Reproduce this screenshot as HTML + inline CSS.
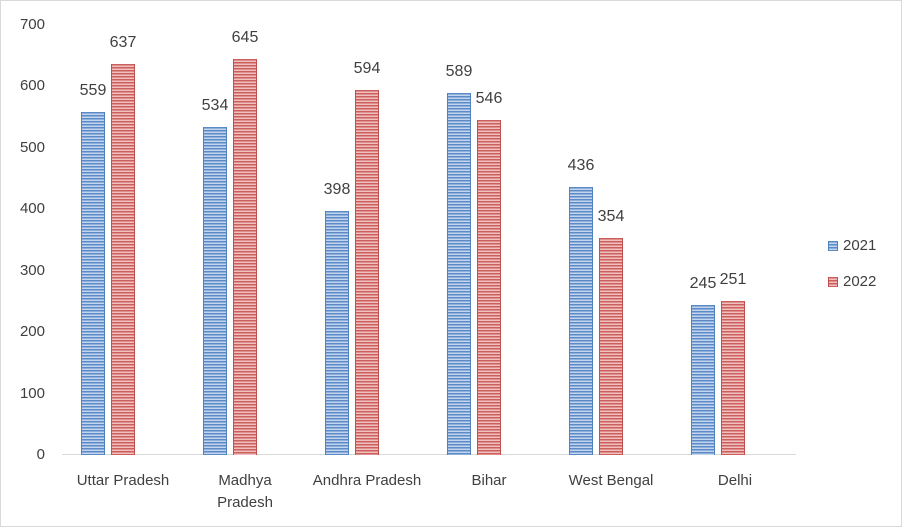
<!DOCTYPE html>
<html><head><style>
body{margin:0;background:#fff;}
#c{position:relative;width:900px;height:525px;border:1px solid #d9d9d9;background:#fff;font-family:"Liberation Sans",sans-serif;color:#404040;overflow:hidden}
.t{position:absolute;font-size:15px;text-align:right;width:40px;left:4px}
.b{position:absolute;width:24px}
.bl{background:repeating-linear-gradient(180deg,#5b8ac6 0,#5b8ac6 1.5px,#c3d5ee 1.5px,#c3d5ee 3px);box-shadow:inset 1px 0 #4f81bd,inset -1px 0 #4f81bd}
.rd{background:repeating-linear-gradient(180deg,#cc5f5c 0,#cc5f5c 1.5px,#efc0bf 1.5px,#efc0bf 3px);box-shadow:inset 1px 0 #c0504d,inset -1px 0 #c0504d}
.v{position:absolute;font-size:16px;width:50px;text-align:center}
.x{position:absolute;font-size:15px;width:120px;text-align:center;top:469px;line-height:22px}
</style></head><body><div id="c">
<div style="position:absolute;left:61px;top:453px;width:734px;height:1px;background:#d9d9d9"></div>
<div class="t" style="top:445px">0</div>
<div class="t" style="top:384px">100</div>
<div class="t" style="top:322px">200</div>
<div class="t" style="top:261px">300</div>
<div class="t" style="top:199px">400</div>
<div class="t" style="top:138px">500</div>
<div class="t" style="top:76px">600</div>
<div class="t" style="top:15px">700</div>
<div id="bars"></div>
<div class="x" style="left:62px">Uttar Pradesh</div>
<div class="x" style="left:184px">Madhya<br>Pradesh</div>
<div class="x" style="left:306px">Andhra Pradesh</div>
<div class="x" style="left:428px">Bihar</div>
<div class="x" style="left:550px">West Bengal</div>
<div class="x" style="left:674px">Delhi</div>
<div class="bl" style="position:absolute;left:827px;top:240px;width:10px;height:10px"></div>
<div style="position:absolute;left:842px;top:236px;font-size:15px">2021</div>
<div class="rd" style="position:absolute;left:827px;top:276px;width:10px;height:10px"></div>
<div style="position:absolute;left:842px;top:272px;font-size:15px">2022</div>
</div>
<script>
var d=[[559,637],[534,645],[398,594],[589,546],[436,354],[245,251]];
var h='';
d.forEach(function(p,i){
 var x=80+122*i;
 p.forEach(function(v,j){
  var hh=v*430/700, top=454-hh, xx=x+j*30;
  h+='<div class="b '+(j?'rd':'bl')+'" style="left:'+xx+'px;top:'+top+'px;height:'+hh+'px"></div>';
  h+='<div class="v" style="left:'+(xx-13)+'px;top:'+(top-30)+'px">'+v+'</div>';
 });
});
document.getElementById('bars').innerHTML=h;
</script>
</body></html>
